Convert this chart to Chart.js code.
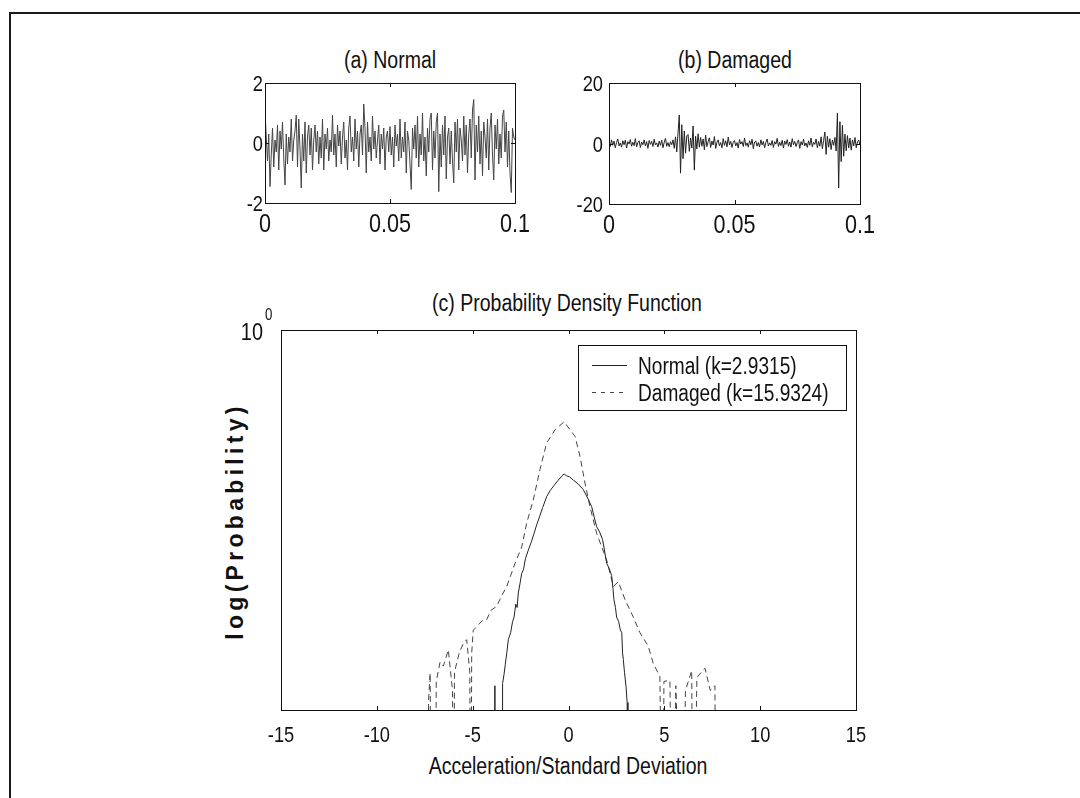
<!DOCTYPE html>
<html>
<head>
<meta charset="utf-8">
<script src="https://cdn.jsdelivr.net/npm/chart.js@4.4.0/dist/chart.umd.min.js"></script>
<style>
    body { margin: 0; background: #fff; width: 1080px; height: 798px; overflow: hidden; position: relative;
           font-family: 'Liberation Sans', Arial, sans-serif; color: #111; }
    .frame { position: absolute; left: 9px; top: 12px; width: 1070px; height: 800px;
             border-top: 2px solid #1a1a1a; border-left: 2px solid #1a1a1a; }
    canvas { position: absolute; }
    /* the scan uses a narrow helvetica, so squeeze the text sideways */
    .lbl { position: absolute; white-space: nowrap; transform: translate(-50%, -50%) scaleX(0.83); font-size: 23.5px; }
    .ylab { position: absolute; left: 235px; top: 521px; transform: translate(-50%, -50%) rotate(-90deg);
            font-weight: bold; font-size: 23px; letter-spacing: 4.3px; white-space: nowrap; }
</style>
</head>
<body>
<div class="frame"></div>
<div class="lbl" style="left:390px;top:60px">(a) Normal</div>
<div class="lbl" style="left:735px;top:60px">(b) Damaged</div>
<div class="lbl" style="left:567px;top:303px">(c) Probability Density Function</div>
<div class="lbl" style="left:568px;top:766px">Acceleration/Standard Deviation</div>
<div class="ylab">log(Probability)</div>

<canvas id="chart-a" width="314" height="179" style="left:225px;top:69px"></canvas>
<canvas id="chart-b" width="319" height="180" style="left:565px;top:69px"></canvas>
<canvas id="chart-c" width="665" height="470" style="left:221px;top:300px"></canvas>

<script>
// sample spacing of the two acceleration records (s)
const sampleStep = 0.0005;

// (a) normal bearing acceleration
const accNormal = [
    1.05, 0.2, -0.6, 0.3, -1.45, -0.4, 0.5, -0.8, 0.1, -0.3,
    0.6, -0.9, 0.4, -0.2, 0.7, -0.5, -1.4, 0.3, -0.7, 0.2,
    -0.3, 0.8, -0.6, 0.1, 0.4, 0.93, -0.8, 0.8, -0.2, -1.5,
    0.3, -0.6, 0.7, -1.0, 0.2, 0.6, -0.4, 0.5, -0.9, 0.1,
    0.6, -0.3, 0.4, -0.7, 0.2, -0.5, 0.8, -0.9, 0.3, -0.2,
    0.5, -0.6, 0.1, -0.3, 0.93, -0.4, 0.3, -0.8, 0.6, -0.1,
    0.4, -0.7, 0.2, 0.7, -0.5, 0.1, -0.9, 0.5, 0.9, -0.3,
    0.2, -0.6, 0.8, -0.2, 0.4, -0.8, 0.3, 0.6, -0.4, 1.3,
    0.5, -1.0, 0.7, -0.3, 0.2, -0.6, 0.9, -0.2, 0.4, -0.5,
    0.1, 0.6, -0.7, 0.3, -0.2, 0.5, -0.9, 0.2, 0.4, -0.3,
    0.55, -0.4, 0.2, -0.8, 0.6, -0.1, 0.3, -0.6, 0.8, -0.5,
    0.2, -0.3, 0.7, -1.0, 0.4, 0.1, -0.7, -1.55, 0.5, -0.2,
    0.6, -0.5, 0.9, -0.8, 0.3, -0.4, 1.0, -0.6, 0.2, -1.1,
    0.5, -0.3, 0.8, 1.0, -0.9, 0.4, -0.5, 0.7, 1.0, -1.62,
    0.3, -0.8, 0.6, -0.4, 0.9, -1.2, 0.2, 0.5, -0.7, 0.4,
    -0.6, -1.33, 0.7, -0.3, 0.8, -0.9, 0.5, 0.1, -0.6, 0.9,
    -0.4, 0.6, -1.0, 0.3, 0.8, -0.5, 1.1, 1.45, -1.23, 0.6,
    -0.3, 0.9, -0.7, 0.4, -1.1, 0.7, 0.2, -0.5, 0.8, -0.9,
    0.5, 1.0, -0.4, -1.23, 0.6, -0.2, 0.8, -0.7, 0.3, -0.5,
    0.9, 1.1, -0.3, 0.7, -0.8, 0.4, -1.0, -1.65, 0.5, 0.2,
    0.1
];

// (b) damaged bearing acceleration
const accDamaged = [
    0.5, -1.0, 1.2, -0.6, 0.8, -1.4, 0.3, 1.5, -0.8, 0.2,
    -1.2, 0.9, -0.4, 1.1, -1.5, 0.6, -0.2, 1.3, -0.9, 0.4,
    -0.7, 1.6, -1.1, 0.3, 0.9, -1.3, 0.5, -0.4, 1.2, -0.8,
    0.6, -1.6, 1.0, -0.3, 0.7, -1.0, 1.4, -0.5, 0.2, -1.2,
    0.8, -0.6, 1.1, -1.4, 0.4, 1.7, -0.9, 0.3, -1.1, 0.6,
    -0.4, 1.2, -1.6, 2.2, -2.8, 3.5, 9.4, -9.8, 6.2, -5.0,
    4.1, -3.2, 2.5, 3.0, -2.6, 1.8, -1.5, 5.8, -8.8, 2.4,
    -1.8, 3.2, -1.2, 2.0, -0.9, 1.5, -2.1, 2.8, -1.0, 0.6,
    1.9, -1.3, 0.8, -0.5, 2.3, -1.6, 0.4, 1.2, -0.8, 0.3,
    -1.4, 1.6, -0.6, 0.9, -1.1, 2.1, -0.5, 0.7, -1.3, 0.4,
    1.0, -0.8, 0.3, -1.5, 1.3, -0.2, 0.6, -1.0, 1.8, -0.7,
    0.2, -1.2, 0.9, -0.4, 1.4, -1.7, 0.5, 0.8, -0.9, 0.3,
    -1.1, 1.2, -0.5, 0.7, -1.4, 0.4, 1.5, -0.8, 0.2, -0.6,
    1.0, -1.3, 0.6, -0.2, 1.7, -1.0, 0.4, -0.7, 1.1, -1.5,
    0.8, -0.3, 1.3, -0.9, 0.5, -1.2, 1.6, -0.4, 0.7, -1.0,
    0.3, 1.2, -1.6, 0.6, -0.5, 1.4, -0.8, 0.2, -1.3, 0.9,
    -0.6, 1.8, -1.1, 0.4, -0.3, 1.5, -1.4, 0.7, -0.9, 2.2,
    -1.7, 1.0, 3.8, -3.6, 2.4, -1.2, 1.6, -2.0, 1.1, -0.6,
    2.0, -2.5, 10.1, -14.7, 7.2, -6.0, 6.0, -4.2, 3.1, -2.4,
    2.6, -1.5, 1.8, -2.2, 1.2, -0.8, 2.0, -1.4, 0.6, 1.1,
    -0.5
];

// (c) probability density, empty bins are given 1e-6 (below the axis)
const pdfNormalX = [
    -3.90, -3.84, -3.80, -3.46, -3.44, -3.36, -3.30, -3.22, -3.14, -3.02,
    -2.92, -2.84, -2.75, -2.68, -2.62, -2.52, -2.44, -2.35, -2.25, -2.10,
    -1.95, -1.80, -1.66, -1.50, -1.35, -1.14, -0.95, -0.75, -0.55, -0.35,
    -0.23, -0.10, 0.05, 0.25, 0.50, 0.77, 1.00, 1.21, 1.35, 1.47,
    1.62, 1.78, 1.90, 1.99, 2.12, 2.25, 2.32, 2.37, 2.45, 2.51,
    2.62, 2.70, 2.78, 2.82, 2.86, 2.92, 3.00, 3.06, 3.10
];
const pdfNormalP = [
    1e-6, 1.8e-4, 1e-6, 1e-6, 1.9e-4, 2.4e-4, 3.0e-4, 4.0e-4, 5.5e-4, 6.5e-4,
    8.5e-4, 9.5e-4, 1.3e-3, 1.2e-3, 1.7e-3, 2.2e-3, 2.75e-3, 3.0e-3, 3.9e-3, 4.8e-3,
    5.8e-3, 7.2e-3, 8.9e-3, 0.011, 0.0135, 0.0176, 0.0205, 0.0232, 0.026, 0.029,
    0.0305, 0.0292, 0.0285, 0.0263, 0.024, 0.0209, 0.017, 0.0138, 0.0105, 0.0085,
    0.0075, 0.0062, 0.0045, 0.0035, 0.0031, 0.0026, 0.0019, 0.00145, 0.0012, 0.00095,
    0.00085, 0.0007, 0.00065, 0.0004, 0.00034, 0.00025, 0.000178, 0.00012, 1e-6
];
const pdfDamagedX = [
    -7.40, -7.30, -7.22, -7.15, -6.95, -6.90, -6.70, -6.53, -6.27, -6.05,
    -6.00, -5.95, -5.70, -5.49, -5.31, -5.15, -5.10, -5.05, -4.97, -4.70,
    -4.45, -4.27, -4.05, -3.75, -3.50, -3.22, -2.79, -2.44, -2.18, -1.84,
    -1.49, -1.14, -0.70, -0.23, 0.34, 0.60, 0.86, 1.12, 1.47, 1.99,
    2.34, 2.60, 2.95, 3.38, 3.73, 4.16, 4.42, 4.77, 4.90, 4.98,
    5.29, 5.45, 5.60, 5.95, 6.10, 6.43, 6.50, 6.70, 7.12, 7.40,
    7.64, 7.70
];
const pdfDamagedP = [
    1e-6, 1.26e-4, 2.45e-4, 1e-6, 1e-6, 2.0e-4, 3.2e-4, 2.9e-4, 4.3e-4, 1.6e-4,
    1e-6, 2.5e-4, 4.0e-4, 5.0e-4, 5.5e-4, 2.5e-4, 1e-6, 4.0e-4, 6.9e-4, 7.9e-4,
    8.9e-4, 8.9e-4, 1.12e-3, 1.23e-3, 1.58e-3, 2.0e-3, 3.5e-3, 5.2e-3, 9.3e-3, 0.0162,
    0.0339, 0.0646, 0.0891, 0.108, 0.0759, 0.0468, 0.0245, 0.0138, 0.0072, 0.0038,
    0.0020, 0.00224, 0.00145, 0.00095, 0.00065, 0.00047, 0.00031, 0.000224, 1e-6, 2.0e-4,
    2.05e-4, 1e-6, 1.8e-4, 1e-6, 1.6e-4, 2.6e-4, 1e-6, 2.2e-4, 2.75e-4, 1.6e-4,
    1.8e-4, 1e-6
];

const FONT = "'Liberation Sans', Arial, sans-serif";
const SQUEEZE = 0.83;

// canvas text squeezed sideways, to look like helvetica narrow
function narrowText(ctx, text, x, y, size, align) {
    ctx.save();
    ctx.font = size + 'px ' + FONT;
    ctx.fillStyle = '#111';
    ctx.textAlign = align;
    ctx.textBaseline = 'alphabetic';
    ctx.translate(x, y);
    ctx.scale(SQUEEZE, 1);
    ctx.fillText(text, 0, 0);
    ctx.restore();
}

const fmt = v => String(parseFloat(v.toFixed(4)));

// box round the plot area, short inward ticks and the tick labels
const boxTicks = {
    id: 'boxTicks',
    afterDatasetsDraw(chart, args, opts) {
        const { ctx, chartArea: a, scales } = chart;
        const len = 4;
        ctx.save();
        ctx.strokeStyle = '#111';
        ctx.lineWidth = 1;
        ctx.strokeRect(Math.round(a.left) + 0.5, Math.round(a.top) + 0.5, Math.round(a.width), Math.round(a.height));
        ctx.beginPath();
        scales.x.ticks.forEach(t => {
            const px = Math.round(scales.x.getPixelForValue(t.value)) + 0.5;
            ctx.moveTo(px, a.bottom); ctx.lineTo(px, a.bottom - len);
            ctx.moveTo(px, a.top); ctx.lineTo(px, a.top + len);
        });
        if (opts.yTicks) {
            scales.y.ticks.forEach(t => {
                const py = Math.round(scales.y.getPixelForValue(t.value)) + 0.5;
                ctx.moveTo(a.left, py); ctx.lineTo(a.left + len, py);
                ctx.moveTo(a.right, py); ctx.lineTo(a.right - len, py);
            });
        }
        ctx.stroke();
        ctx.restore();

        scales.x.ticks.forEach(t => {
            narrowText(ctx, fmt(t.value), scales.x.getPixelForValue(t.value), a.bottom + opts.xBase, opts.xSize, 'center');
        });
        if (opts.yTicks) {
            scales.y.ticks.forEach(t => {
                narrowText(ctx, fmt(t.value), a.left - opts.yGap, scales.y.getPixelForValue(t.value) + opts.yBase, opts.ySize, 'right');
            });
        }
    }
};

function fixedAxis(size, horizontal) {
    return s => {
        if (horizontal) s.height = size; else s.width = size;
        s.paddingTop = s.paddingBottom = s.paddingLeft = s.paddingRight = 0;
    };
}

function signalChart(id, values, lim, yWidth, yGap, color) {
    const points = values.map((v, i) => ({ x: i * sampleStep, y: v }));
    return new Chart(document.getElementById(id), {
        type: 'line',
        data: { datasets: [{ data: points, borderColor: color, borderWidth: 1, pointRadius: 0, tension: 0 }] },
        options: {
            responsive: false,
            animation: false,
            devicePixelRatio: 1,
            layout: { padding: { top: 14, right: 24, left: 0, bottom: 0 } },
            plugins: {
                legend: { display: false },
                tooltip: { enabled: false },
                boxTicks: { yTicks: true, xSize: 26, xBase: 29, ySize: 22, yGap: yGap, yBase: 8 }
            },
            scales: {
                x: {
                    type: 'linear', min: 0, max: 0.1,
                    ticks: { stepSize: 0.05, display: false },
                    grid: { display: false }, border: { display: false },
                    afterFit: fixedAxis(45, true)
                },
                y: {
                    min: -lim, max: lim,
                    ticks: { stepSize: lim, display: false },
                    grid: { display: false }, border: { display: false },
                    afterFit: fixedAxis(yWidth, false)
                }
            }
        },
        plugins: [boxTicks]
    });
}

signalChart('chart-a', accNormal, 2, 40, 2, '#444');
signalChart('chart-b', accDamaged, 20, 44, 6, '#222');

// legend inside the plot area (top right) and the 10^0 label
const insideLegend = {
    id: 'insideLegend',
    afterDraw(chart) {
        const { ctx, chartArea: a } = chart;
        const w = 268, h = 65;
        const left = Math.round(a.right - 10 - w), top = Math.round(a.top + 15);
        ctx.save();
        ctx.fillStyle = '#fff';
        ctx.fillRect(left, top, w, h);
        ctx.strokeStyle = '#111';
        ctx.lineWidth = 1;
        ctx.strokeRect(left + 0.5, top + 0.5, w, h);
        chart.data.datasets.forEach((ds, i) => {
            const y = top + 20 + i * 27 + 0.5;
            ctx.setLineDash(ds.borderDash ? [4, 5] : []);
            ctx.strokeStyle = ds.borderColor;
            ctx.beginPath();
            ctx.moveTo(left + 14, y);
            ctx.lineTo(left + 49, y);
            ctx.stroke();
            ctx.setLineDash([]);
            narrowText(ctx, ds.label, left + 60, y + 8, 23, 'left');
        });
        ctx.restore();

        const py = chart.scales.y.getPixelForValue(1);
        narrowText(ctx, '10', a.left - 18, py + 10, 24, 'right');
        narrowText(ctx, '0', a.left - 16, py - 10, 16, 'left');
    }
};

new Chart(document.getElementById('chart-c'), {
    type: 'line',
    data: {
        datasets: [
            {
                label: 'Normal (k=2.9315)',
                data: pdfNormalX.map((x, i) => ({ x, y: pdfNormalP[i] })),
                borderColor: '#222', borderWidth: 1, pointRadius: 0, tension: 0
            },
            {
                label: 'Damaged (k=15.9324)',
                data: pdfDamagedX.map((x, i) => ({ x, y: pdfDamagedP[i] })),
                borderColor: '#444', borderWidth: 1, borderDash: [6, 4], pointRadius: 0, tension: 0
            }
        ]
    },
    options: {
        responsive: false,
        animation: false,
        devicePixelRatio: 1,
        layout: { padding: { top: 30, right: 30, left: 0, bottom: 0 } },
        plugins: {
            legend: { display: false },
            tooltip: { enabled: false },
            boxTicks: { yTicks: false, xSize: 22, xBase: 32 }
        },
        scales: {
            x: {
                type: 'linear', min: -15, max: 15,
                ticks: { stepSize: 5, display: false },
                grid: { display: false }, border: { display: false },
                afterFit: fixedAxis(60, true)
            },
            y: {
                type: 'logarithmic', min: 1e-4, max: 1,
                ticks: { display: false },
                grid: { display: false }, border: { display: false },
                afterFit: fixedAxis(60, false)
            }
        }
    },
    plugins: [boxTicks, insideLegend]
});
</script>
</body>
</html>
